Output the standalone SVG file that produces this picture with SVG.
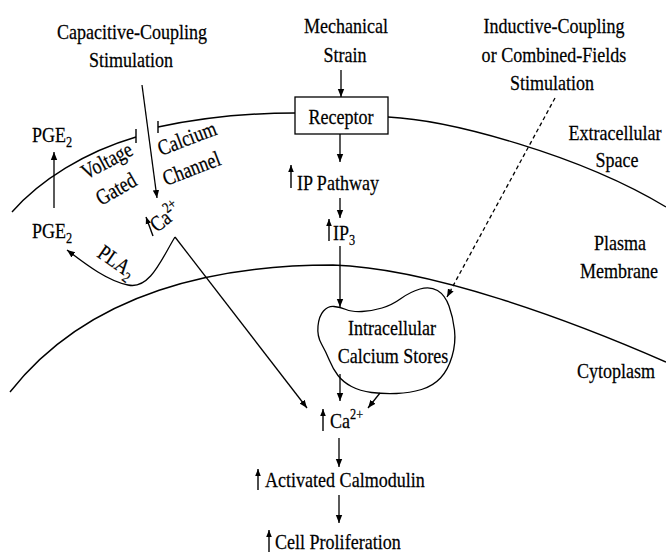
<svg xmlns="http://www.w3.org/2000/svg" width="666" height="552" viewBox="0 0 666 552">
<defs>
<style>
text{font-family:"Liberation Serif","Times New Roman",serif;font-size:22px;fill:#000;stroke:#000;stroke-width:0.25}
.c{text-anchor:middle}
.ln{fill:none;stroke:#000;stroke-width:1.3}
.mem{fill:none;stroke:#000;stroke-width:1.4}
.ar{marker-end:url(#ah)}
.up{fill:none;stroke:#000;stroke-width:1.4;marker-end:url(#ahs)}
.sm{font-size:15px}
</style>
<marker id="ah" viewBox="0 0 10 10" refX="10" refY="5" markerWidth="8" markerHeight="8" markerUnits="userSpaceOnUse" orient="auto"><path d="M0,1 L10,5 L0,9 z"/></marker>
<marker id="ahs" viewBox="0 0 10 10" refX="10" refY="5" markerWidth="7" markerHeight="7" markerUnits="userSpaceOnUse" orient="auto"><path d="M0,1 L10,5 L0,9 z"/></marker>
</defs>
<rect width="666" height="552" fill="#fff"/>

<g id="membranes">
<path class="mem" d="M12,212 C40,180 85,152 136,137"/>
<path class="mem" d="M136,129 L136,143"/>
<path class="mem" d="M158,127 C200,118 250,113 295,113"/>
<path class="mem" d="M158,121 L158,133"/>
<path class="mem" d="M388,117 C450,120 580,155 666,207"/>
<path class="mem" d="M10,392 C90,290 220,265 333,265 C430,268 570,320 666,362"/>
</g>

<g id="labels-regions">
<text class="c" transform="translate(615,140) scale(0.82,1)">Extracellular</text>
<text class="c" transform="translate(617,167) scale(0.82,1)">Space</text>
<text class="c" transform="translate(620,250) scale(0.82,1)">Plasma</text>
<text class="c" transform="translate(619,278) scale(0.82,1)">Membrane</text>
<text class="c" transform="translate(616,378) scale(0.82,1)">Cytoplasm</text>
</g>

<g id="capacitive">
<text class="c" transform="translate(132,39) scale(0.82,1)">Capacitive-Coupling</text>
<text class="c" transform="translate(131,67) scale(0.82,1)">Stimulation</text>
</g>
<g id="mechanical">
<text class="c" transform="translate(346,33) scale(0.82,1)">Mechanical</text>
<text class="c" transform="translate(345,62) scale(0.82,1)">Strain</text>
</g>
<g id="inductive">
<text class="c" transform="translate(554,33) scale(0.82,1)">Inductive-Coupling</text>
<text class="c" transform="translate(554,62) scale(0.82,1)">or Combined-Fields</text>
<text class="c" transform="translate(552,90) scale(0.82,1)">Stimulation</text>
</g>

<g id="receptor">
<rect x="295" y="97" width="93" height="37" fill="#fff" stroke="#000" stroke-width="1.3"/>
<text class="c" transform="translate(341,124) scale(0.82,1)">Receptor</text>
</g>

<g id="ip-pathway">
<path class="up" d="M291,188 L291,165"/>
<text transform="translate(297,190) scale(0.82,1)">IP Pathway</text>
</g>
<g id="ip3">
<path class="up" d="M329,241 L329,219"/>
<text transform="translate(333,240) scale(0.82,1)">IP<tspan class="sm" dy="5">3</tspan></text>
</g>

<g id="channel-labels">
<text transform="translate(86,180) rotate(-28) scale(0.82,1)">Voltage</text>
<text transform="translate(101,206) rotate(-30) scale(0.82,1)">Gated</text>
<text transform="translate(161,156) rotate(-21) scale(0.82,1)">Calcium</text>
<text transform="translate(166,186) rotate(-21) scale(0.82,1)">Channel</text>
</g>

<g id="ca-channel">
<path class="up" d="M153,236 L146,217"/>
<text transform="translate(157,233) rotate(-38) scale(0.82,1)">Ca<tspan class="sm" dy="-9">2+</tspan></text>
</g>

<g id="pge2-top">
<text transform="translate(32,142) scale(0.82,1)">PGE<tspan class="sm" dy="5">2</tspan></text>
</g>
<g id="pge2-bottom">
<text transform="translate(32,238) scale(0.82,1)">PGE<tspan class="sm" dy="5">2</tspan></text>
</g>
<g id="pla2">
<text transform="translate(96,256) rotate(35) scale(0.82,1)">PLA<tspan class="sm" dy="5">2</tspan></text>
</g>

<g id="stores">
<path fill="#fff" stroke="#000" stroke-width="1.3" d="M334,306.5 Q340,307 346,309.5 Q352,312 362,311.5 Q372,311 382,308 Q392,305 401,298.5 Q410,292 420,289 Q430,286 437.5,290.5 Q445,295 449,306 Q453,317 454.5,330 Q456,343 452,356.5 Q448,370 440.5,378 Q433,386 421.5,389.5 Q410,393 396.5,393.5 Q383,394 371.5,392.5 Q360,391 351.5,386.5 Q343,382 338,375.5 Q333,369 329.5,360.5 Q326,352 321.5,344 Q317,336 318,326 Q319,316 323.5,311 Q328,306 334,306.5 Z"/>
<text class="c" transform="translate(392,335) scale(0.82,1)">Intracellular</text>
<text class="c" transform="translate(393,363) scale(0.82,1)">Calcium Stores</text>
</g>

<g id="ca-cyto">
<path class="up" d="M323,431 L323,409"/>
<text transform="translate(330,428) scale(0.82,1)">Ca<tspan class="sm" dy="-9">2+</tspan></text>
</g>
<g id="calmodulin">
<path class="up" d="M258,490 L258,469"/>
<text transform="translate(265,487) scale(0.82,1)">Activated Calmodulin</text>
</g>
<g id="proliferation">
<path class="up" d="M269,552 L269,530"/>
<text transform="translate(275,549) scale(0.82,1)">Cell Proliferation</text>
</g>

<g id="connectors">
<path class="ln ar" d="M142,85 L157,198"/>
<path class="ln ar" d="M341,70 L341,97"/>
<path class="ln ar" d="M340,134 L340,162"/>
<path class="ln ar" d="M340,198 L340,218"/>
<path class="ln ar" d="M340,246 L340,307"/>
<path class="ln ar" d="M555,98 L447,297" stroke-dasharray="4,3"/>
<path class="ln ar" d="M340,374 L340,401"/>
<path class="ln ar" d="M380,393 L368,408"/>
<path class="ln ar" d="M175,237 C162,258 150,290 128,285 C108,281 88,266 67,250"/>
<path class="ln ar" d="M175,237 L307,408"/>
<path class="ln ar" d="M339,438 L339,467"/>
<path class="ln ar" d="M339,495 L339,523"/>
<path class="ln ar" d="M54,208 L54,152"/>
</g>
</svg>
